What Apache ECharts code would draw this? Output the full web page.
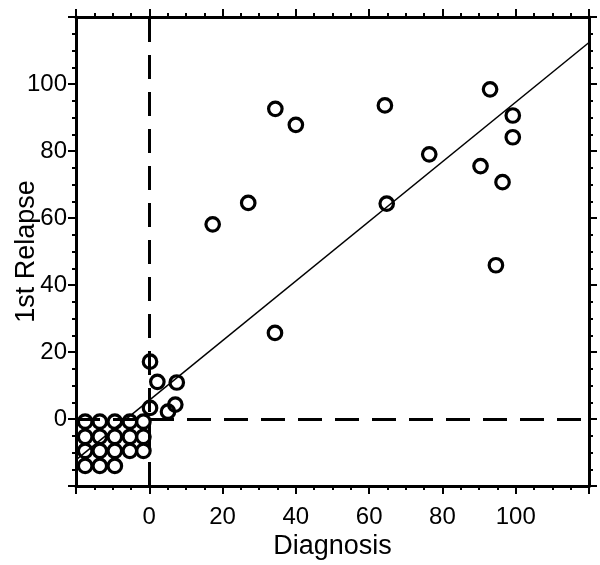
<!DOCTYPE html>
<html>
<head>
<meta charset="utf-8">
<script src="https://cdn.jsdelivr.net/npm/echarts@6/dist/echarts.min.js"></script>
<style>
  html, body { margin: 0; padding: 0; background: #fff; }
  #chart { width: 600px; height: 565px; }
</style>
</head>
<body>
<div id="chart"></div>
<script>
  // values
  const diagnosis = [
    34.4, 40.0, 64.3, 76.4, 27.0, 17.3, 64.8, 34.3,
    93.0, 99.2, 99.2, 90.4, 96.4, 94.6,
    0.2, 2.2, 7.5, 0.2, 5.1, 7.1,
    -17.5, -13.5, -9.4, -5.3, -1.6,
    -17.5, -13.5, -9.4, -5.3, -1.6,
    -17.5, -13.5, -9.4, -5.3, -1.6,
    -17.5, -13.5, -9.4
  ];
  const relapse = [
    92.6, 87.8, 93.6, 79.0, 64.5, 58.1, 64.3, 25.7,
    98.4, 90.6, 84.1, 75.5, 70.7, 45.9,
    17.1, 11.1, 10.9, 3.3, 2.2, 4.3,
    -0.8, -0.8, -0.8, -0.8, -0.8,
    -5.3, -5.3, -5.3, -5.3, -5.3,
    -9.5, -9.5, -9.5, -9.5, -9.5,
    -14.0, -14.0, -14.0
  ];
  // fitted line end points
  const fitX = [-20, 120];
  const fitY = [-12.2, 112.4];
  const xTicks = [0, 20, 40, 60, 80, 100];
  const yTicks = [0, 20, 40, 60, 80, 100];

  const points = diagnosis.map(function (d, i) { return [d, relapse[i]]; });
  const fitLine = fitX.map(function (d, i) { return [d, fitY[i]]; });

  const font = "'Liberation Sans', Arial, sans-serif";

  function makeAxis(pos, showLabel, ticks, name) {
    return {
      type: 'value',
      position: pos,
      min: -20,
      max: 120,
      interval: 20,
      name: name,
      nameLocation: 'middle',
      nameMoveOverlap: false,
      nameGap: (pos === 'bottom') ? 47 : 36,
      nameTextStyle: { fontSize: 27, color: '#000', fontFamily: font },
      axisLine: { show: true, onZero: false, lineStyle: { color: '#000', width: 3 } },
      axisTick: { show: true, inside: false, length: 8, lineStyle: { color: '#000', width: 2 } },
      minorTick: { show: true, splitNumber: 4, length: 4, lineStyle: { color: '#000', width: 2 } },
      splitLine: { show: false },
      axisLabel: {
        show: showLabel,
        fontSize: 24,
        color: '#000',
        fontFamily: font,
        margin: (pos === 'bottom') ? 19 : 9,
        formatter: function (v) { return ticks.indexOf(v) >= 0 ? String(v) : ''; }
      }
    };
  }

  const option = {
    animation: false,
    grid: { left: 76, right: 11, top: 17, bottom: 79, containLabel: false, outerBoundsMode: 'none' },
    xAxis: [
      makeAxis('bottom', true, xTicks, 'Diagnosis'),
      makeAxis('top', false, xTicks, '')
    ],
    yAxis: [
      makeAxis('left', true, yTicks, '1st Relapse'),
      makeAxis('right', false, yTicks, '')
    ],
    series: [
      {
        type: 'line',
        data: fitLine,
        showSymbol: false,
        symbol: 'none',
        lineStyle: { color: '#000', width: 1.5 },
        z: 3,
        markLine: {
          silent: true,
          symbol: 'none',
          label: { show: false },
          lineStyle: { color: '#000', width: 3, type: [24, 13] },
          data: [{ xAxis: 0 }, { yAxis: 0 }]
        }
      },
      {
        type: 'scatter',
        data: points,
        symbol: 'circle',
        symbolSize: 13.5,
        itemStyle: { color: 'rgba(0,0,0,0)', borderColor: '#000', borderWidth: 3.2, opacity: 1 },
        z: 4
      }
    ]
  };

  const chartObj = echarts.init(document.getElementById('chart'));
  chartObj.setOption(option);
</script>
</body>
</html>
